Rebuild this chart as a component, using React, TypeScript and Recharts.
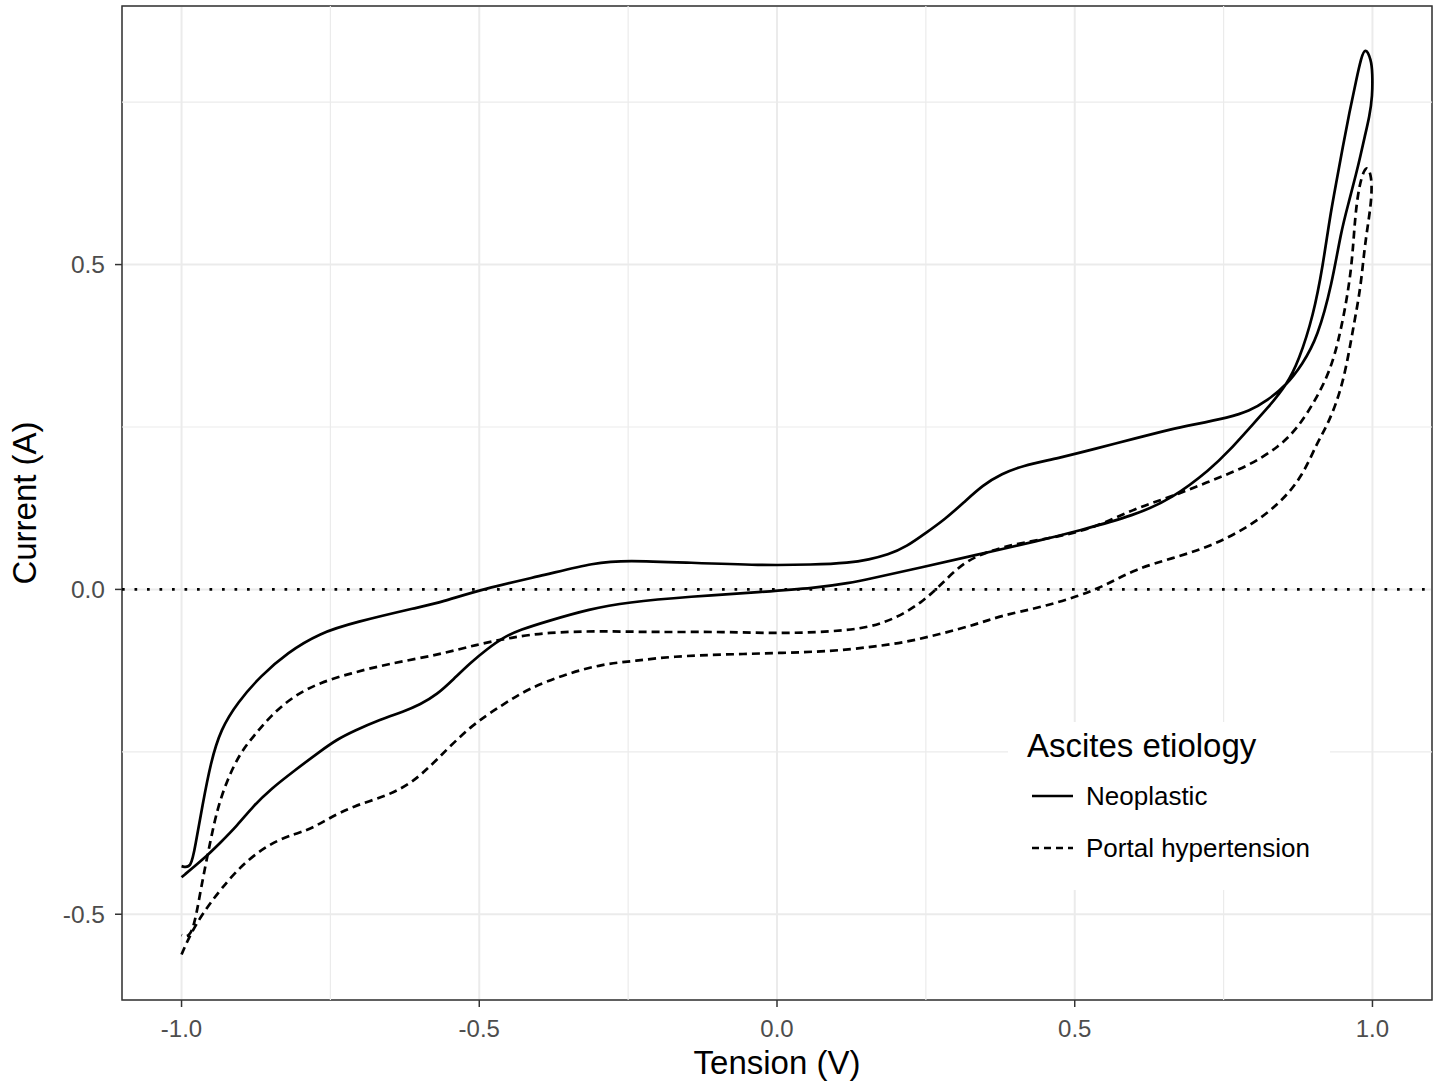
import { LineChart, Line, XAxis, YAxis, CartesianGrid, ReferenceLine, ReferenceArea, Legend } from 'recharts'

const FONT = '"Liberation Sans", Arial, Helvetica, sans-serif'

// cyclic voltammetry loops (tension in V, current in A)
const neoplasticTension = [
  -1.0, -0.963, -0.935, -0.907, -0.879, -0.851, -0.812, -0.767, -0.739, -0.711, -0.666, -0.627, -0.599, -0.571,
  -0.543, -0.515, -0.487, -0.46, -0.431, -0.386, -0.314, -0.253, -0.146, -0.027, 0.064, 0.122, 0.154, 0.243, 0.334,
  0.441, 0.505, 0.601, 0.664, 0.728, 0.76, 0.792, 0.824, 0.856, 0.876, 0.901, 0.917, 0.928, 0.939, 0.95, 0.961,
  0.973, 0.981, 0.988, 0.998, 1.0, 1.0, 0.995, 0.987, 0.98, 0.973, 0.96, 0.947, 0.932, 0.908, 0.882, 0.856, 0.824,
  0.792, 0.76, 0.696, 0.664, 0.6, 0.537, 0.473, 0.41, 0.378, 0.346, 0.314, 0.282, 0.25, 0.218, 0.186, 0.154, 0.122,
  0.06, -0.027, -0.146, -0.253, -0.307, -0.386, -0.493, -0.565, -0.6, -0.711, -0.767, -0.822, -0.867, -0.906, -0.934,
  -0.951, -0.965, -0.977, -0.984, -1.0,
]
const neoplasticCurrent = [
  -0.443, -0.415, -0.39, -0.364, -0.333, -0.308, -0.28, -0.249, -0.231, -0.218, -0.2, -0.188, -0.177, -0.162,
  -0.138, -0.113, -0.092, -0.074, -0.062, -0.049, -0.03, -0.02, -0.011, -0.004, 0.002, 0.01, 0.016, 0.034, 0.053,
  0.075, 0.09, 0.114, 0.14, 0.185, 0.214, 0.247, 0.279, 0.315, 0.351, 0.422, 0.5, 0.57, 0.625, 0.68, 0.733,
  0.785, 0.818, 0.835, 0.815, 0.795, 0.759, 0.728, 0.697, 0.668, 0.641, 0.595, 0.55, 0.47, 0.388, 0.346, 0.315, 0.291,
  0.274, 0.265, 0.253, 0.247, 0.232, 0.217, 0.202, 0.19, 0.178, 0.161, 0.134, 0.108, 0.087, 0.066, 0.053, 0.046, 0.041,
  0.038, 0.037, 0.041, 0.045, 0.041, 0.023, 0.001, -0.02, -0.027, -0.051, -0.067, -0.097, -0.133, -0.174, -0.215,
  -0.266, -0.333, -0.395, -0.43, -0.426,
]

const portalTension = [
  -1.0, -0.985, -0.963, -0.935, -0.89, -0.834, -0.789, -0.756, -0.711, -0.655, -0.611, -0.571, -0.515, -0.46,
  -0.416, -0.356, -0.295, -0.237, -0.176, -0.086, 0.003, 0.094, 0.154, 0.213, 0.273, 0.334, 0.378, 0.441, 0.505,
  0.556, 0.601, 0.664, 0.728, 0.792, 0.843, 0.882, 0.907, 0.926, 0.951, 0.968, 0.98, 0.986, 0.992, 0.997, 0.999,
  0.998, 0.99, 0.981, 0.975, 0.97, 0.965, 0.951, 0.933, 0.908, 0.876, 0.844, 0.792, 0.728, 0.664, 0.601, 0.537,
  0.473, 0.41, 0.359, 0.314, 0.273, 0.243, 0.201, 0.154, 0.094, -0.002, -0.086, -0.206, -0.295, -0.386, -0.446,
  -0.505, -0.565, -0.655, -0.711, -0.767, -0.812, -0.851, -0.879, -0.901, -0.923, -0.94, -0.951, -0.968, -0.982, -1.0,
]
const portalCurrent = [
  -0.562, -0.53, -0.497, -0.462, -0.415, -0.382, -0.372, -0.354, -0.333, -0.318, -0.297, -0.262, -0.21, -0.177,
  -0.152, -0.131, -0.115, -0.11, -0.103, -0.1, -0.098, -0.095, -0.089, -0.082, -0.069, -0.054, -0.04, -0.028, -0.011,
  0.008, 0.031, 0.048, 0.066, 0.096, 0.131, 0.173, 0.226, 0.255, 0.315, 0.404, 0.463, 0.52, 0.559, 0.59, 0.615,
  0.638, 0.654, 0.633, 0.605, 0.564, 0.492, 0.415, 0.345, 0.297, 0.25, 0.22, 0.19, 0.167, 0.143, 0.125, 0.096,
  0.081, 0.072, 0.06, 0.043, 0.005, -0.02, -0.044, -0.059, -0.065, -0.068, -0.065, -0.066, -0.064, -0.066, -0.074,
  -0.085, -0.1, -0.115, -0.128, -0.143, -0.164, -0.195, -0.226, -0.251, -0.292, -0.338, -0.385, -0.462, -0.538, -0.532,
]

const seriesNames = ['Neoplastic', 'Portal hypertension']
const legendTitle = 'Ascites etiology'
const xTicks = [-1, -0.5, 0, 0.5, 1]
const yTicks = [-0.5, 0, 0.5]
const xMinor = [-0.75, -0.25, 0.25, 0.75]
const yMinor = [-0.25, 0.25, 0.75]

const zip = (xs: number[], ys: number[]) => xs.map((x, i) => ({ x, y: ys[i] }))
const neoplasticData = zip(neoplasticTension, neoplasticCurrent)
const portalData = zip(portalTension, portalCurrent)

const DASH = '8 5'
const LW = 2.7

function LegendBox() {
  return (
    <svg width={322} height={168} style={{ background: '#fff', display: 'block' }}>
      <text x={19} y={35} fontSize={33} fontFamily={FONT} fill="#000">{legendTitle}</text>
      <line x1={24} x2={65} y1={74} y2={74} stroke="#000" strokeWidth={LW} />
      <text x={78} y={83} fontSize={26} fontFamily={FONT} fill="#000">{seriesNames[0]}</text>
      <line x1={24} x2={65} y1={126} y2={126} stroke="#000" strokeWidth={LW} strokeDasharray="7 5" />
      <text x={78} y={135} fontSize={26} fontFamily={FONT} fill="#000">{seriesNames[1]}</text>
    </svg>
  )
}

export default function App() {
  return (
    <div style={{ position: 'absolute', left: 0, top: 0, background: '#fff' }}>
      <LineChart width={1439} height={1084} margin={{ top: 6, right: 7, bottom: 0, left: 0 }}>
        <CartesianGrid stroke="#EBEBEB" strokeWidth={2} />
        {xMinor.map((v) => (
          <ReferenceLine key={`xm${v}`} x={v} stroke="#EBEBEB" strokeWidth={1.2} />
        ))}
        {yMinor.map((v) => (
          <ReferenceLine key={`ym${v}`} y={v} stroke="#EBEBEB" strokeWidth={1.2} />
        ))}
        <XAxis
          type="number"
          dataKey="x"
          domain={[-1.1, 1.1]}
          allowDataOverflow
          ticks={xTicks}
          tickFormatter={(v: number) => v.toFixed(1)}
          height={84}
          axisLine={false}
          tickLine={{ stroke: '#333', strokeWidth: 1.5 }}
          tickSize={7}
          tickMargin={13}
          tick={{ fill: '#4D4D4D', fontSize: 24, fontFamily: FONT }}
          label={{ value: 'Tension (V)', position: 'insideBottom', offset: 10, fontSize: 33, fontFamily: FONT, fill: '#000' }}
        />
        <YAxis
          type="number"
          dataKey="y"
          domain={[-0.632, 0.898]}
          allowDataOverflow
          ticks={yTicks}
          tickFormatter={(v: number) => v.toFixed(1)}
          width={122}
          axisLine={false}
          tickLine={{ stroke: '#333', strokeWidth: 1.5 }}
          tickSize={7}
          tickMargin={10}
          tick={{ fill: '#4D4D4D', fontSize: 24.5, fontFamily: FONT }}
          label={(props: any) => {
            const vb = props.viewBox || { x: 0, y: 6, width: 122, height: 994 }
            const cx = vb.x + 36
            const cy = vb.y + vb.height / 2
            return (
              <text
                x={cx}
                y={cy}
                transform={`rotate(-90 ${cx} ${cy})`}
                textAnchor="middle"
                fontSize={33}
                fontFamily={FONT}
                fill="#000"
              >
                Current (A)
              </text>
            )
          }}
        />
        <ReferenceLine y={0} stroke="#000" strokeWidth={2.7} strokeDasharray="2.7 9.8" />
        <Line
          data={neoplasticData}
          dataKey="y"
          name={seriesNames[0]}
          type="basis"
          stroke="#000"
          strokeWidth={LW}
          dot={false}
          activeDot={false}
          isAnimationActive={false}
        />
        <Line
          data={portalData}
          dataKey="y"
          name={seriesNames[1]}
          type="basis"
          stroke="#000"
          strokeWidth={LW}
          strokeDasharray={DASH}
          dot={false}
          activeDot={false}
          isAnimationActive={false}
        />
        <ReferenceArea x1={-1.1} x2={1.1} y1={-0.632} y2={0.898} fill="none" stroke="#333" strokeWidth={1.5} />
        <Legend
          layout="horizontal"
          verticalAlign="middle"
          align="center"
          wrapperStyle={{ left: 1008, top: 722, width: 322, height: 168 }}
          content={() => <LegendBox />}
        />
      </LineChart>
    </div>
  )
}
